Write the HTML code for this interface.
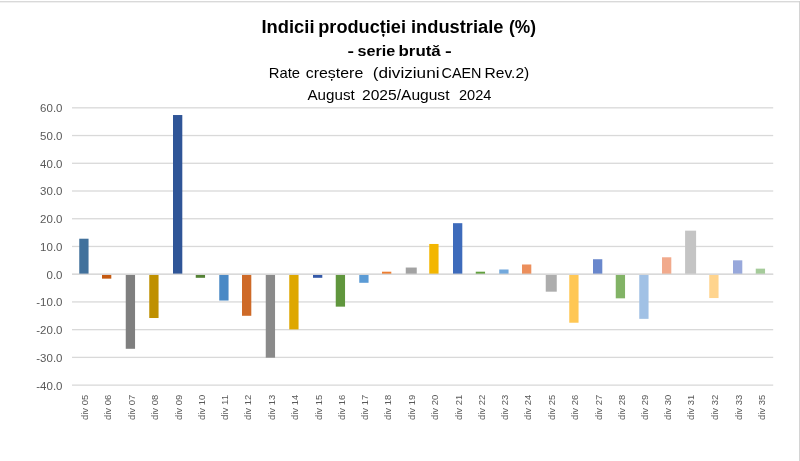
<!DOCTYPE html>
<html><head><meta charset="utf-8"><title>Indicii productiei industriale</title>
<style>
html,body{margin:0;padding:0;background:#fff;}
body{width:800px;height:461px;overflow:hidden;font-family:"Liberation Sans",sans-serif;}
svg{display:block;will-change:transform;filter:blur(0.3px);}
text{font-family:"Liberation Sans",sans-serif;}
.t1{font-weight:bold;font-size:17.6px;fill:#000;}
.t2{font-weight:bold;font-size:15.4px;fill:#000;}
.t3{font-size:15px;fill:#000;}
.yl{font-size:11px;fill:#595959;}
.xl{font-size:9.6px;fill:#595959;}
</style></head><body>
<svg width="800" height="461" viewBox="0 0 800 461">
<rect x="0" y="0" width="800" height="461" fill="#fff"/>
<rect x="0" y="1" width="800" height="1.4" fill="#D9D9D9"/>
<rect x="799.1" y="1" width="0.9" height="460" fill="#D0D0D0"/>

<rect x="72.0" y="107.17" width="701.20" height="1.3" fill="#D9D9D9"/>
<rect x="72.0" y="134.90" width="701.20" height="1.3" fill="#D9D9D9"/>
<rect x="72.0" y="162.63" width="701.20" height="1.3" fill="#D9D9D9"/>
<rect x="72.0" y="190.36" width="701.20" height="1.3" fill="#D9D9D9"/>
<rect x="72.0" y="218.09" width="701.20" height="1.3" fill="#D9D9D9"/>
<rect x="72.0" y="245.82" width="701.20" height="1.3" fill="#D9D9D9"/>
<rect x="72.0" y="273.55" width="701.20" height="1.3" fill="#D9D9D9"/>
<rect x="72.0" y="301.28" width="701.20" height="1.3" fill="#D9D9D9"/>
<rect x="72.0" y="329.01" width="701.20" height="1.3" fill="#D9D9D9"/>
<rect x="72.0" y="356.74" width="701.20" height="1.3" fill="#D9D9D9"/>
<rect x="72.0" y="384.47" width="701.20" height="1.3" fill="#D9D9D9"/>
<rect x="79.25" y="238.71" width="9.30" height="35.49" fill="#41719C"/>
<rect x="102.00" y="274.70" width="9.30" height="3.94" fill="#C55A11"/>
<rect x="125.75" y="274.70" width="9.30" height="74.09" fill="#7F7F7F"/>
<rect x="149.25" y="274.70" width="9.30" height="43.31" fill="#BF9000"/>
<rect x="173.00" y="115.03" width="9.30" height="159.17" fill="#2F5597"/>
<rect x="195.75" y="274.70" width="9.30" height="3.10" fill="#548235"/>
<rect x="219.25" y="274.70" width="9.30" height="25.84" fill="#4A89C5"/>
<rect x="242.00" y="274.70" width="9.30" height="41.09" fill="#CE6A28"/>
<rect x="265.75" y="274.70" width="9.30" height="82.97" fill="#8A8A8A"/>
<rect x="289.25" y="274.70" width="9.30" height="54.68" fill="#DEA700"/>
<rect x="313.00" y="274.70" width="9.30" height="3.10" fill="#3459A8"/>
<rect x="335.75" y="274.70" width="9.30" height="31.94" fill="#60963D"/>
<rect x="359.25" y="274.70" width="9.30" height="8.10" fill="#5B9BD5"/>
<rect x="382.00" y="271.70" width="9.30" height="2.50" fill="#ED7D31"/>
<rect x="405.75" y="267.54" width="11.00" height="6.66" fill="#A2A2A2"/>
<rect x="429.25" y="243.97" width="9.30" height="30.23" fill="#F3B600"/>
<rect x="453.00" y="223.18" width="9.30" height="51.02" fill="#3E6BBB"/>
<rect x="475.75" y="271.70" width="9.30" height="2.50" fill="#62A03E"/>
<rect x="499.25" y="269.49" width="9.30" height="4.71" fill="#72A8DC"/>
<rect x="522.00" y="264.49" width="9.30" height="9.71" fill="#EC8F5C"/>
<rect x="545.75" y="274.70" width="11.00" height="16.97" fill="#ADADAD"/>
<rect x="569.25" y="274.70" width="9.30" height="48.03" fill="#FFC754"/>
<rect x="593.00" y="259.23" width="9.30" height="14.97" fill="#6987CC"/>
<rect x="615.75" y="274.70" width="9.30" height="23.63" fill="#82B366"/>
<rect x="639.25" y="274.70" width="9.30" height="44.15" fill="#A1C1E5"/>
<rect x="662.00" y="257.28" width="9.30" height="16.92" fill="#F1AA8C"/>
<rect x="685.10" y="230.66" width="11.00" height="43.54" fill="#C4C4C4"/>
<rect x="709.25" y="274.70" width="9.30" height="23.35" fill="#FFD48D"/>
<rect x="733.00" y="260.33" width="9.30" height="13.87" fill="#98A8DB"/>
<rect x="755.75" y="268.65" width="9.30" height="5.55" fill="#A5CB9A"/>
<rect x="72.0" y="273.60" width="701.20" height="1.3" fill="#D9D9D9"/>
<text class="yl" transform="translate(62.5,112.22) scale(1.045,1)" text-anchor="end">60.0</text>
<text class="yl" transform="translate(62.5,139.95) scale(1.045,1)" text-anchor="end">50.0</text>
<text class="yl" transform="translate(62.5,167.68) scale(1.045,1)" text-anchor="end">40.0</text>
<text class="yl" transform="translate(62.5,195.41) scale(1.045,1)" text-anchor="end">30.0</text>
<text class="yl" transform="translate(62.5,223.14) scale(1.045,1)" text-anchor="end">20.0</text>
<text class="yl" transform="translate(62.5,250.87) scale(1.045,1)" text-anchor="end">10.0</text>
<text class="yl" transform="translate(62.5,278.60) scale(1.045,1)" text-anchor="end">0.0</text>
<text class="yl" transform="translate(62.5,306.33) scale(1.045,1)" text-anchor="end">-10.0</text>
<text class="yl" transform="translate(62.5,334.06) scale(1.045,1)" text-anchor="end">-20.0</text>
<text class="yl" transform="translate(62.5,361.79) scale(1.045,1)" text-anchor="end">-30.0</text>
<text class="yl" transform="translate(62.5,389.52) scale(1.045,1)" text-anchor="end">-40.0</text>
<text class="xl" transform="translate(88.15,420) rotate(-90)" textLength="25.2" lengthAdjust="spacingAndGlyphs">div 05</text>
<text class="xl" transform="translate(110.90,420) rotate(-90)" textLength="25.2" lengthAdjust="spacingAndGlyphs">div 06</text>
<text class="xl" transform="translate(134.65,420) rotate(-90)" textLength="25.2" lengthAdjust="spacingAndGlyphs">div 07</text>
<text class="xl" transform="translate(158.15,420) rotate(-90)" textLength="25.2" lengthAdjust="spacingAndGlyphs">div 08</text>
<text class="xl" transform="translate(181.90,420) rotate(-90)" textLength="25.2" lengthAdjust="spacingAndGlyphs">div 09</text>
<text class="xl" transform="translate(204.65,420) rotate(-90)" textLength="25.2" lengthAdjust="spacingAndGlyphs">div 10</text>
<text class="xl" transform="translate(228.15,420) rotate(-90)" textLength="25.2" lengthAdjust="spacingAndGlyphs">div 11</text>
<text class="xl" transform="translate(250.90,420) rotate(-90)" textLength="25.2" lengthAdjust="spacingAndGlyphs">div 12</text>
<text class="xl" transform="translate(274.65,420) rotate(-90)" textLength="25.2" lengthAdjust="spacingAndGlyphs">div 13</text>
<text class="xl" transform="translate(298.15,420) rotate(-90)" textLength="25.2" lengthAdjust="spacingAndGlyphs">div 14</text>
<text class="xl" transform="translate(321.90,420) rotate(-90)" textLength="25.2" lengthAdjust="spacingAndGlyphs">div 15</text>
<text class="xl" transform="translate(344.65,420) rotate(-90)" textLength="25.2" lengthAdjust="spacingAndGlyphs">div 16</text>
<text class="xl" transform="translate(368.15,420) rotate(-90)" textLength="25.2" lengthAdjust="spacingAndGlyphs">div 17</text>
<text class="xl" transform="translate(390.90,420) rotate(-90)" textLength="25.2" lengthAdjust="spacingAndGlyphs">div 18</text>
<text class="xl" transform="translate(414.65,420) rotate(-90)" textLength="25.2" lengthAdjust="spacingAndGlyphs">div 19</text>
<text class="xl" transform="translate(438.15,420) rotate(-90)" textLength="25.2" lengthAdjust="spacingAndGlyphs">div 20</text>
<text class="xl" transform="translate(461.90,420) rotate(-90)" textLength="25.2" lengthAdjust="spacingAndGlyphs">div 21</text>
<text class="xl" transform="translate(484.65,420) rotate(-90)" textLength="25.2" lengthAdjust="spacingAndGlyphs">div 22</text>
<text class="xl" transform="translate(508.15,420) rotate(-90)" textLength="25.2" lengthAdjust="spacingAndGlyphs">div 23</text>
<text class="xl" transform="translate(530.90,420) rotate(-90)" textLength="25.2" lengthAdjust="spacingAndGlyphs">div 24</text>
<text class="xl" transform="translate(554.65,420) rotate(-90)" textLength="25.2" lengthAdjust="spacingAndGlyphs">div 25</text>
<text class="xl" transform="translate(578.15,420) rotate(-90)" textLength="25.2" lengthAdjust="spacingAndGlyphs">div 26</text>
<text class="xl" transform="translate(601.90,420) rotate(-90)" textLength="25.2" lengthAdjust="spacingAndGlyphs">div 27</text>
<text class="xl" transform="translate(624.65,420) rotate(-90)" textLength="25.2" lengthAdjust="spacingAndGlyphs">div 28</text>
<text class="xl" transform="translate(648.15,420) rotate(-90)" textLength="25.2" lengthAdjust="spacingAndGlyphs">div 29</text>
<text class="xl" transform="translate(670.90,420) rotate(-90)" textLength="25.2" lengthAdjust="spacingAndGlyphs">div 30</text>
<text class="xl" transform="translate(694.00,420) rotate(-90)" textLength="25.2" lengthAdjust="spacingAndGlyphs">div 31</text>
<text class="xl" transform="translate(718.15,420) rotate(-90)" textLength="25.2" lengthAdjust="spacingAndGlyphs">div 32</text>
<text class="xl" transform="translate(741.90,420) rotate(-90)" textLength="25.2" lengthAdjust="spacingAndGlyphs">div 33</text>
<text class="xl" transform="translate(764.65,420) rotate(-90)" textLength="25.2" lengthAdjust="spacingAndGlyphs">div 35</text>
<text class="t1" x="261.5" y="33" textLength="53.0" lengthAdjust="spacingAndGlyphs">Indicii</text>
<text class="t1" x="318.25" y="33" textLength="87.75" lengthAdjust="spacingAndGlyphs">producției</text>
<text class="t1" x="411.0" y="33" textLength="92.5" lengthAdjust="spacingAndGlyphs">industriale</text>
<text class="t1" x="509.0" y="33" textLength="27.0" lengthAdjust="spacingAndGlyphs">(%)</text>
<text class="t2" x="347.5" y="56" textLength="6.5" lengthAdjust="spacingAndGlyphs">-</text>
<text class="t2" x="357.5" y="56" textLength="37.75" lengthAdjust="spacingAndGlyphs">serie</text>
<text class="t2" x="398.5" y="56" textLength="42.25" lengthAdjust="spacingAndGlyphs">brută</text>
<text class="t2" x="445.0" y="56" textLength="6.75" lengthAdjust="spacingAndGlyphs">-</text>
<text class="t3" x="268.75" y="78.0" textLength="31.25" lengthAdjust="spacingAndGlyphs">Rate</text>
<text class="t3" x="305.75" y="78.0" textLength="57.5" lengthAdjust="spacingAndGlyphs">creștere</text>
<text class="t3" x="372.75" y="78.0" textLength="66.75" lengthAdjust="spacingAndGlyphs">(diviziuni</text>
<text class="t3" x="441.5" y="78.0" textLength="40.0" lengthAdjust="spacingAndGlyphs">CAEN</text>
<text class="t3" x="484.5" y="78.0" textLength="44.75" lengthAdjust="spacingAndGlyphs">Rev.2)</text>
<text class="t3" x="307.5" y="100" textLength="47.25" lengthAdjust="spacingAndGlyphs">August</text>
<text class="t3" x="362.0" y="100" textLength="87.5" lengthAdjust="spacingAndGlyphs">2025/August</text>
<text class="t3" x="459.0" y="100" textLength="32.5" lengthAdjust="spacingAndGlyphs">2024</text>
</svg></body></html>
